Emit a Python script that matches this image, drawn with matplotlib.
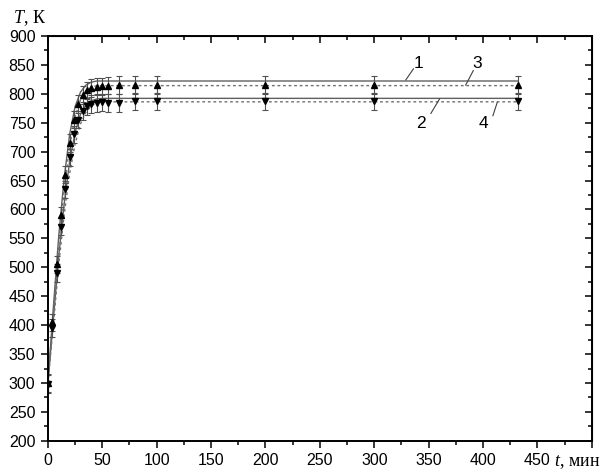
import numpy as np
import matplotlib
matplotlib.use("Agg")
import matplotlib.pyplot as plt
from matplotlib.ticker import MultipleLocator

plt.rcParams["font.family"] = ["Liberation Sans", "DejaVu Sans"]
plt.rcParams["mathtext.fontset"] = "custom"
plt.rcParams["mathtext.it"] = "Liberation Serif:italic"
plt.rcParams["mathtext.rm"] = "Liberation Serif"

# model curves
curve_t = [0, 5, 10, 15, 20, 25, 30, 35, 40, 45, 50, 60, 432]
curve_1 = [300, 430, 555, 655, 730, 778, 803, 815, 820, 822, 822, 822, 822]
curve_3 = [300, 420, 540, 635, 710, 760, 790, 805, 811, 814, 814, 814, 814]
curve_2 = [300, 410, 520, 610, 683, 733, 765, 781, 788, 791, 792, 792, 792]
curve_4 = [300, 400, 505, 592, 662, 713, 748, 768, 779, 784, 786, 786, 786]

# measured points
pts_t = [0, 4, 8, 12, 16, 20, 24, 28, 32, 36, 40, 45, 50, 55, 65, 80, 100, 200, 300, 432]
pts_up = [300, 405, 505, 590, 660, 715, 755, 782, 798, 806, 810, 812, 813, 814, 815, 815, 815, 815, 815, 815]
pts_dn = [298, 395, 490, 570, 635, 690, 730, 755, 770, 778, 782, 784, 785, 784, 784, 787, 787, 787, 787, 787]
err = 15

# curve labels: text position, leader start, leader end
labels = {
    "1": ((341, 853), (329, 824), (336, 843)),
    "3": ((395, 852), (384, 815), (391, 840)),
    "2": ((343, 748), (360, 791), (352, 766)),
    "4": ((400, 748), (413, 785), (409, 762)),
}

fig = plt.figure(figsize=(6.14, 4.72), dpi=100)
ax = fig.add_axes([0.078, 0.066, 0.886, 0.858])

line_col = "#606060"
ax.plot(curve_t, curve_1, color=line_col, lw=1.0)
ax.plot(curve_t, curve_2, color=line_col, lw=1.0)
ax.plot(curve_t, curve_3, color="#707070", lw=1.0, ls=(0, (2, 2)))
ax.plot(curve_t, curve_4, color="#707070", lw=1.0, ls=(0, (2, 2)))

ax.errorbar(pts_t, pts_up, yerr=err, fmt="^", color="black", ms=5,
            ecolor="#505050", elinewidth=0.8, capsize=2.5, capthick=0.8)
ax.errorbar(pts_t, pts_dn, yerr=err, fmt="v", color="black", ms=5,
            ecolor="#505050", elinewidth=0.8, capsize=2.5, capthick=0.8)

for name, (txt, p0, p1) in labels.items():
    ax.plot([p0[0], p1[0]], [p0[1], p1[1]], color="#404040", lw=0.8)
    ax.text(txt[0], txt[1], name, fontsize=12.5, ha="center", va="center")

ax.set_xlim(0, 500)
ax.set_ylim(200, 900)
ax.xaxis.set_major_locator(MultipleLocator(50))
ax.xaxis.set_minor_locator(MultipleLocator(25))
ax.yaxis.set_major_locator(MultipleLocator(50))
ax.yaxis.set_minor_locator(MultipleLocator(25))
xt = np.arange(0, 501, 50)
ax.set_xticks(xt)
ax.set_xticklabels([str(v) if v < 500 else "" for v in xt])

ax.tick_params(which="both", direction="out", width=1.1, labelsize=11.5, pad=4)
ax.tick_params(which="major", length=5)
ax.tick_params(which="minor", length=3)
for s in ax.spines.values():
    s.set_linewidth(1.4)

# opposite axes with inward ticks
top = ax.secondary_xaxis("top")
top.xaxis.set_major_locator(MultipleLocator(50))
top.xaxis.set_minor_locator(MultipleLocator(25))
top.tick_params(which="both", direction="in", width=1.1, labeltop=False)
top.tick_params(which="major", length=5)
top.tick_params(which="minor", length=3)
right = ax.secondary_yaxis("right")
right.yaxis.set_major_locator(MultipleLocator(50))
right.yaxis.set_minor_locator(MultipleLocator(25))
right.tick_params(which="both", direction="in", width=1.1, labelright=False)
right.tick_params(which="major", length=5)
right.tick_params(which="minor", length=3)

ax.annotate(r"$\mathit{T}$, К", xy=(0, 1), xycoords="axes fraction",
            xytext=(-13, 13), textcoords="offset points",
            ha="center", va="center", fontsize=13, family="Liberation Serif")
ax.annotate(r"$\mathit{t}$, мин", xy=(1, 0), xycoords="axes fraction",
            xytext=(-27, -15), textcoords="offset points",
            ha="left", va="center", fontsize=13, family="Liberation Serif")

fig.savefig("out.png", dpi=100)
